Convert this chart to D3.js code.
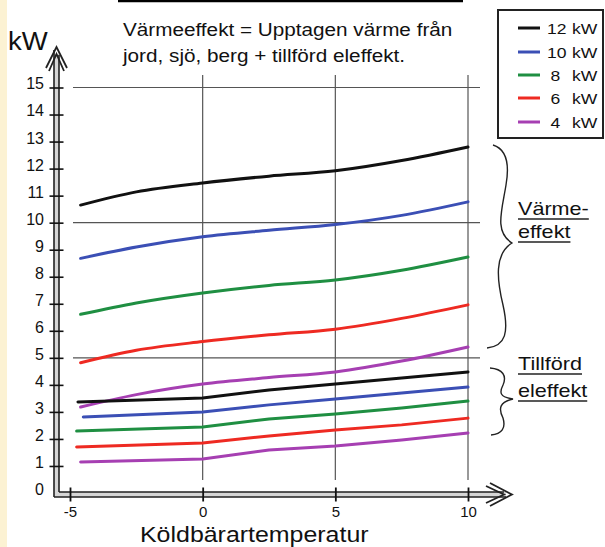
<!DOCTYPE html>
<html><head><meta charset="utf-8">
<script src="https://cdn.jsdelivr.net/npm/d3@7"></script>
<style>
html,body{margin:0;padding:0;background:#fff;}
text{font-family:"Liberation Sans",Arial,sans-serif;fill:#111;}
</style></head>
<body>
<script>
// ---- data ----
const seriesNames = ["12 kW","10 kW","8 kW","6 kW","4 kW"];
const seriesColors = ["#111111","#3b4fb5","#1f8f42","#ee2a22","#a63fb2"];
// Värmeeffekt (upper curves)
const upperX = [-4.6, -2.5, 0, 2.5, 5, 7.5, 10];
const upper12 = [10.65, 11.14, 11.47, 11.72, 11.92, 12.30, 12.80];
const upper10 = [8.68, 9.10, 9.48, 9.72, 9.93, 10.27, 10.77];
const upper8  = [6.61, 7.03, 7.40, 7.68, 7.88, 8.24, 8.73];
const upper6  = [4.82, 5.28, 5.60, 5.85, 6.06, 6.46, 6.96];
const upper4  = [3.18, 3.64, 4.03, 4.27, 4.48, 4.88, 5.40];
// Tillförd eleffekt (lower curves)
const lowerStartX = [-4.7, -4.5, -4.75, -4.75, -4.6];
const lowerX = [0, 2.5, 5, 7.5, 10];
const lower12 = [3.37, 3.51, 3.81, 4.03, 4.25, 4.48];
const lower10 = [2.81, 3.00, 3.26, 3.48, 3.70, 3.92];
const lower8  = [2.29, 2.44, 2.74, 2.92, 3.14, 3.40];
const lower6  = [1.70, 1.85, 2.11, 2.33, 2.52, 2.77];
const lower4  = [1.15, 1.26, 1.59, 1.74, 1.96, 2.22];
const yTicks = [0,1,2,3,4,5,6,7,8,9,10,11,12,13,14,15];
const xTicks = [-5, 0, 5, 10];
const gridY = [5, 10, 15];
const gridX = [0, 5, 10];
const titleLines = ["Värmeeffekt = Upptagen värme från", "jord, sjö, berg + tillförd eleffekt."];
const xTitle = "Köldbärartemperatur";
const yUnit = "kW";
const groupLabels = [["Värme-","effekt"],["Tillförd","eleffekt"]];

const upperSeries = [upper12, upper10, upper8, upper6, upper4];
const lowerSeries = [lower12, lower10, lower8, lower6, lower4];

// ---- drawing ----
const W = 605, H = 547;
const svg = d3.select("body").append("svg").attr("width", W).attr("height", H);
svg.append("rect").attr("width", W).attr("height", H).attr("fill", "#fff");
svg.append("rect").attr("x", 0).attr("y", 0).attr("width", 7).attr("height", H).attr("fill", "#fcf2d3");

const x = d3.scaleLinear().domain([-5, 10]).range([70, 468]);
const y = d3.scaleLinear().domain([0, 15]).range([493, 87.5]);

function stext(parent, tx, ty, str, size, sx, anchor) {
  const g = parent.append("g").attr("transform", `translate(${tx},${ty}) scale(${sx},1)`);
  return g.append("text").attr("x", 0).attr("y", 0).attr("font-size", size)
    .attr("text-anchor", anchor || "start").text(str);
}

// grid
svg.append("g").selectAll("line").data(gridY).join("line")
  .attr("x1", 73).attr("x2", 480).attr("y1", d => y(d)).attr("y2", d => y(d))
  .attr("stroke", "#555").attr("stroke-width", 1.2);
svg.append("g").selectAll("line").data(gridX).join("line")
  .attr("x1", d => x(d)).attr("x2", d => x(d)).attr("y1", 75).attr("y2", 480)
  .attr("stroke", "#555").attr("stroke-width", 1.2);

// curves
const lineSmooth = d3.line().x(d => x(d[0])).y(d => y(d[1])).curve(d3.curveMonotoneX);
const lineLin = d3.line().x(d => x(d[0])).y(d => y(d[1]));
upperSeries.forEach((vals, i) => {
  svg.append("path").datum(upperX.map((xv, j) => [xv, vals[j]]))
    .attr("d", lineSmooth).attr("fill", "none").attr("stroke", seriesColors[i])
    .attr("stroke-width", 3).attr("stroke-linecap", "round");
});
[4,3,2,1,0].forEach(i => {
  const vals = lowerSeries[i];
  const xs = [lowerStartX[i]].concat(lowerX);
  svg.append("path").datum(xs.map((xv, j) => [xv, vals[j]]))
    .attr("d", lineLin).attr("fill", "none").attr("stroke", seriesColors[i])
    .attr("stroke-width", 3).attr("stroke-linecap", "round").attr("stroke-linejoin", "round");
});

// axes (double-outline arrows)
const ax = svg.append("g");
ax.append("rect").attr("x", 54).attr("y", 54).attr("width", 5).attr("height", 443).attr("fill", "#d6d6d6");
ax.append("rect").attr("x", 54).attr("y", 492).attr("width", 452).attr("height", 5).attr("fill", "#d6d6d6");
ax.append("path").attr("d", "M54,497 V50 M59,492 V55 M54,497 H506 M59,492 H504")
  .attr("stroke", "#222").attr("stroke-width", 1.6).attr("fill", "none");
ax.append("path").attr("d", "M46,68 L56.5,47 L67,68 M49,71 L56.5,54 L64,71")
  .attr("stroke", "#222").attr("stroke-width", 1.8).attr("fill", "none").attr("stroke-linejoin", "miter");
ax.append("path").attr("d", "M490,483 L512,494.5 L490,506 M486,486 L504,494.5 L486,503")
  .attr("stroke", "#222").attr("stroke-width", 1.8).attr("fill", "none");

const yAxis = d3.axisLeft(y).tickValues(yTicks.filter(d => d > 0)).tickSize(7).tickSizeOuter(0);
const gy = svg.append("g").attr("transform", "translate(56.5,0)").call(yAxis);
gy.select(".domain").remove();
gy.selectAll(".tick line").attr("x1", -7).attr("x2", 7).attr("stroke", "#111").attr("stroke-width", 1.6);
gy.selectAll(".tick text").attr("x", -12.5).attr("dy", "0.34em").attr("y", -4)
  .attr("font-size", 16).attr("font-family", "Liberation Sans, Arial, sans-serif").attr("fill", "#111");
// zero label (axis corner has no tick)
svg.append("text").attr("x", 44).attr("y", y(0) - 3).attr("dy", "0.34em")
  .attr("text-anchor", "end").attr("font-size", 16).text(yTicks[0]);

const xAxis = d3.axisBottom(x).tickValues(xTicks).tickSize(7).tickSizeOuter(0).tickFormat(d => String(d));
const gx = svg.append("g").attr("transform", "translate(0,494.5)").call(xAxis);
gx.select(".domain").remove();
gx.selectAll(".tick line").attr("y1", -7).attr("y2", 7).attr("stroke", "#111").attr("stroke-width", 1.8);
gx.selectAll(".tick text").attr("y", 11.5).attr("dy", "0.71em").attr("font-size", 15)
  .attr("font-family", "Liberation Sans, Arial, sans-serif").attr("fill", "#111");

// unit + x title
stext(svg, 8, 50, yUnit, 25, 1.1);
stext(svg, 140, 542, xTitle, 21.5, 1.16);

// title with top rule
svg.append("line").attr("x1", 118).attr("x2", 463).attr("y1", 1).attr("y2", 1)
  .attr("stroke", "#000").attr("stroke-width", 2.5);
stext(svg, 123, 36, titleLines[0], 18.5, 1.12);
stext(svg, 123, 62, titleLines[1], 18.5, 1.12);

// legend
const lg = svg.append("g");
lg.append("rect").attr("x", 498).attr("y", 10).attr("width", 105).attr("height", 128)
  .attr("fill", "#fff").attr("stroke", "#222").attr("stroke-width", 2);
const legY = [28, 52, 75, 98, 122];
seriesNames.forEach((nm, i) => {
  lg.append("line").attr("x1", 518).attr("x2", 540).attr("y1", legY[i]).attr("y2", legY[i])
    .attr("stroke", seriesColors[i]).attr("stroke-width", 3);
  const parts = nm.split(" ");
  stext(lg, parts[0].length > 1 ? 547 : 550.5, legY[i] + 5.5, parts[0], 15, 1.17);
  stext(lg, 572, legY[i] + 5.5, parts[1], 15, 1.17);
});

// braces
svg.append("path")
  .attr("d", "M493,145 C506,149 510,162 506,185 C502,210 494,232 512,243 C494,254 497,280 503,305 C509,332 506,346 487,348")
  .attr("fill", "none").attr("stroke", "#222").attr("stroke-width", 1.4);
svg.append("path")
  .attr("d", "M490,368 C503,369 507,376 503,385 C499,393 500,397 513,399 C500,402 498,408 503,418 C506,428 502,434 491,435")
  .attr("fill", "none").attr("stroke", "#222").attr("stroke-width", 1.4);

// group labels (underlined)
const glPos = [[215, 238], [370, 397]];
groupLabels.forEach((lines, k) => {
  lines.forEach((s, j) => {
    const t = stext(svg, 518, glPos[k][j], s, 18, 1.2);
    const w = t.node().getComputedTextLength() * 1.2;
    svg.append("line").attr("x1", 518).attr("x2", 518 + w)
      .attr("y1", glPos[k][j] + 4).attr("y2", glPos[k][j] + 4)
      .attr("stroke", "#222").attr("stroke-width", 1.5);
  });
});
</script>
</body></html>
